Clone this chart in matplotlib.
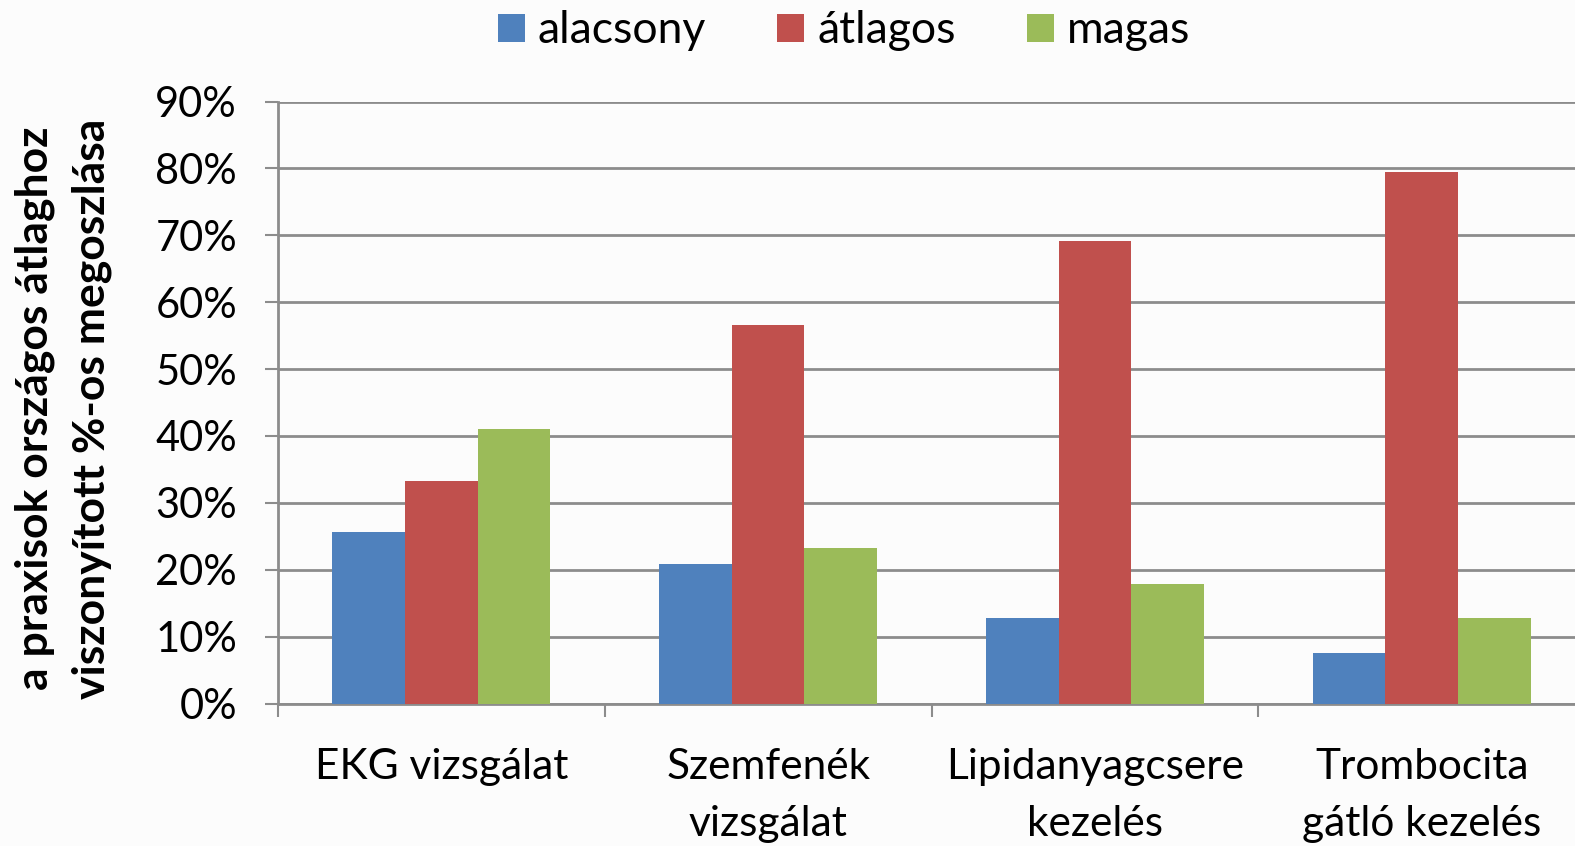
import matplotlib.pyplot as plt
import numpy as np

plt.rcParams['font.family'] = ['Lato', 'DejaVu Sans']

categories = ["EKG vizsgálat", "Szemfenék\nvizsgálat", "Lipidanyagcsere\nkezelés", "Trombocita\ngátló kezelés"]
series = ["alacsony", "átlagos", "magas"]
alacsony = [25.6, 20.8, 12.8, 7.6]
atlagos = [33.3, 56.6, 69.1, 79.4]
magas = [41.0, 23.3, 17.9, 12.8]
colors = ["#4F81BD", "#C0504D", "#9BBB59"]

W, H = 1575, 846
fig = plt.figure(figsize=(W / 100, H / 100), dpi=100)
fig.patch.set_facecolor("#fcfcfc")

# plot area in pixel terms
left, right, top, bottom = 278, 1585, 101.5, 703.5
ax = fig.add_axes([left / W, 1 - bottom / H, (right - left) / W, (bottom - top) / H])
ax.set_facecolor("none")

x = np.arange(len(categories))
w = 1 / 4.5
for j, (name, vals) in enumerate(zip(series, [alacsony, atlagos, magas])):
    ax.bar(x + (j - 1) * w, np.array(vals) / 100, width=w, color=colors[j],
           label=name, zorder=3, linewidth=0)

ax.set_xlim(-0.5, len(categories) - 0.5)
ax.set_ylim(0, 0.9)
ax.set_yticks(np.arange(0, 0.91, 0.1))
ax.set_yticklabels([f"{int(round(v * 100))}%" for v in np.arange(0, 0.91, 0.1)])
ax.yaxis.grid(True, color="#8c8c8c", linewidth=2, zorder=0)
ax.set_axisbelow(True)

for s in ["top", "right"]:
    ax.spines[s].set_visible(False)
for s in ["left", "bottom"]:
    ax.spines[s].set_color("#8c8c8c")
    ax.spines[s].set_linewidth(2)

ax.set_xticks(x)
ax.set_xticklabels(categories, fontsize=30.5, linespacing=1.62)
ax.set_xticks(np.arange(-0.5, len(categories)), minor=True)
ax.tick_params(axis="x", which="major", length=0, pad=32)
ax.tick_params(axis="x", which="minor", length=9.5, width=1.5, color="#8c8c8c")
ax.tick_params(axis="y", length=9.5, width=1.5, color="#8c8c8c", labelsize=30, pad=20)

ax.set_ylabel("a praxisok országos átlaghoz\nviszonyított %-os megoszlása",
              fontsize=32, fontweight="bold", linespacing=1.5)
ax.yaxis.set_label_coords(-0.127, 0.49)

fig.legend(loc="upper center", bbox_to_anchor=(0.536, 1.035), ncol=3, frameon=False,
           fontsize=32, handlelength=0.6, handleheight=0.6, handletextpad=0.3,
           columnspacing=1.6)

fig.savefig("out.png", dpi=100, facecolor=fig.get_facecolor())
